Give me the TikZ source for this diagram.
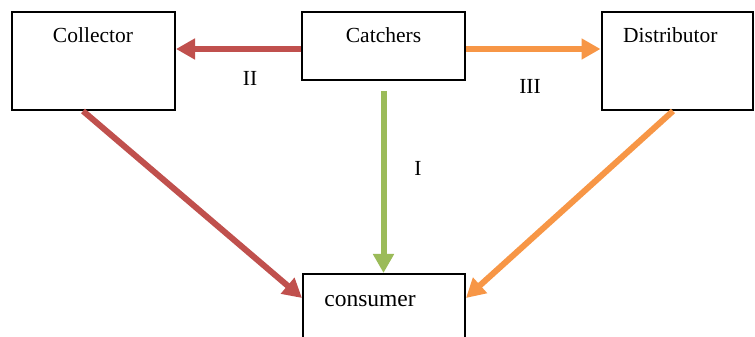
\documentclass[tikz,border=0pt]{standalone}
\usepackage{fontspec}
\setmainfont{Liberation Serif}
\usetikzlibrary{arrows.meta}
\definecolor{cred}{HTML}{C0504D}
\definecolor{corange}{HTML}{F79646}
\definecolor{cgreen}{HTML}{9BBB59}
\begin{document}
\begin{tikzpicture}[x=1pt,y=1pt,
  box/.style={draw=black,line width=2pt,minimum width=#1,inner sep=0pt},
  lbl/.style={font=\fontsize{21.5}{24}\selectfont,inner sep=0pt},
  conn/.style={line width=6pt,-{Triangle[length=19pt,width=20pt]}}]
\useasboundingbox (0,0) rectangle (755,337);
\fill[white] (0,0) rectangle (755,337);
% boxes
\node[box=163pt,minimum height=98pt] (coll) at (93.5,276) {};
\node[box=163pt,minimum height=68pt] (catch) at (383.5,291) {};
\node[box=151pt,minimum height=98pt] (dist) at (677,276) {};
\node[box=162pt,minimum height=76pt] (cons) at (384,25) {};
% box texts
\node[lbl,anchor=base] (tcoll) at (93,294) {Collector};
\node[lbl,anchor=base] (tcatch) at (383.5,294) {Catchers};
\node[lbl,anchor=base west] (tdist) at (623,294) {Distributor};
\node[lbl,anchor=base,font=\fontsize{23.5}{26}\selectfont] (tcons) at (370,30) {consumer};
% connectors
\draw[conn,cred] ([yshift=-3pt]catch.west) -- ([yshift=-3pt]catch.west -| coll.east);
\draw[conn,corange] ([yshift=-3pt]catch.east) -- ([yshift=-3pt]catch.east -| dist.west);
\draw[conn,cgreen] ([yshift=-10pt]catch.south) -- (catch.south |- cons.north);
\draw[conn,cred] ([xshift=-10.5pt]coll.south) -- ([yshift=14pt]cons.west);
\draw[conn,corange] ([xshift=-4pt]dist.south) -- ([yshift=14pt]cons.east);
% labels
\node[lbl] (lII) at (250,259) {II};
\node[lbl] (lIII) at (530,251) {III};
\node[lbl] (lI) at (418,169) {I};
\end{tikzpicture}
\end{document}
